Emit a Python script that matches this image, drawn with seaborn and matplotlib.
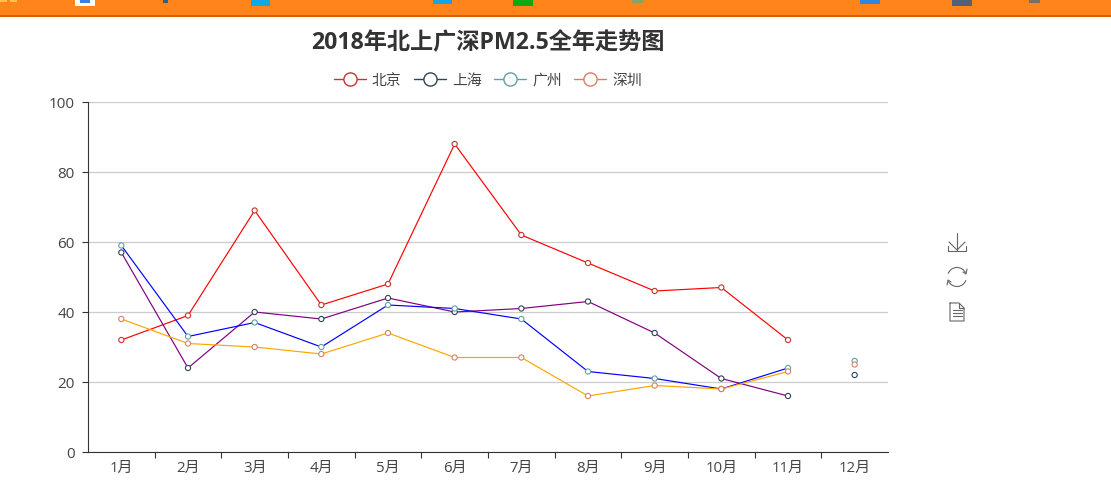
import numpy as np
import pandas as pd
import matplotlib
matplotlib.use('Agg')
import matplotlib.pyplot as plt
from matplotlib.lines import Line2D
from matplotlib.patches import Rectangle, Arc
import seaborn as sns

sns.set_theme(style='white')
plt.rcParams['font.family'] = ['Open Sans', 'Noto Sans CJK SC', 'DejaVu Sans']

months = [f'{i}月' for i in range(1, 13)]
data = {
    '北京': [32, 39, 69, 42, 48, 88, 62, 54, 46, 47, 32, np.nan],
    '上海': [57, 24, 40, 38, 44, 40, 41, 43, 34, 21, 16, 22],
    '广州': [59, 33, 37, 30, 42, 41, 38, 23, 21, 18, 24, 26],
    '深圳': [38, 31, 30, 28, 34, 27, 27, 16, 19, 18, 23, 25],
}
cities = list(data.keys())
line_colors = dict(zip(cities, ['red', 'purple', 'blue', 'orange']))
point_colors = dict(zip(cities, ['#c23531', '#2f4554', '#61a0a8', '#d48265']))

df = pd.DataFrame(data)
df['pos'] = range(12)
df = df.melt(id_vars='pos', var_name='city', value_name='pm25')

fig = plt.figure(figsize=(11.11, 4.83), dpi=100)
ax = fig.add_axes([88 / 1111, 31 / 483, 800 / 1111, 350 / 483])

# lines stop at November, December only has points
sns.lineplot(data=df[df['pos'] < 11], x='pos', y='pm25', hue='city', hue_order=cities,
             palette=line_colors, linewidth=0.85, legend=False, ax=ax, zorder=3)
sns.scatterplot(data=df, x='pos', y='pm25', hue='city', hue_order=cities,
                palette=point_colors, legend=False, ax=ax, zorder=4, s=14, marker='o',
                linewidth=0.8)
# scatterplot puts the hue on the face, so move it to the edge
for coll in ax.collections:
    coll.set_edgecolor(coll.get_facecolor())
    coll.set_facecolor('white')

ax.set_xlim(-0.5, 11.5)
ax.set_ylim(0, 100)
ax.set_xlabel('')
ax.set_ylabel('')
ax.set_yticks(range(0, 101, 20))
ax.set_xticks(np.arange(0.5, 11, 1))
ax.set_xticklabels([])
ax.set_xticks(range(12), months, minor=True)
ax.tick_params(axis='x', which='major', length=4, width=0.8, color='#333333', bottom=True)
ax.tick_params(axis='x', which='minor', length=0, pad=6.5, labelsize=10.8, labelcolor='#444444', bottom=False)
ax.tick_params(axis='y', length=4, width=0.8, color='#333333', labelsize=11, labelcolor='#444444', left=True, pad=5.5)
ax.grid(axis='y', color='#cccccc', linewidth=0.9)
ax.set_axisbelow(True)
sns.despine(ax=ax)
ax.spines['left'].set_color('#333333')
ax.spines['bottom'].set_color('#333333')
ax.spines['left'].set_linewidth(0.8)
ax.spines['bottom'].set_linewidth(0.8)

# overlay in pixels for title, legend, browser bar and toolbox
over = fig.add_axes([0, 0, 1, 1], zorder=10)
over.set_xlim(0, 1111)
over.set_ylim(483, 0)
over.axis('off')

over.text(488, 43, '2018年北上广深PM2.5全年走势图', ha='center', va='center',
          fontsize=16.7, fontweight='bold', color='#333333')

handles = [Line2D([], [], color=point_colors[c], linewidth=1, marker='o', markersize=9.5,
                  markerfacecolor='white', markeredgewidth=1) for c in cities]
over.legend(handles, cities, loc='center', bbox_to_anchor=(488, 81), bbox_transform=over.transData,
            ncols=4, frameon=False, fontsize=10.7, labelcolor='#444444', handlelength=2.15,
            handletextpad=0.42, columnspacing=0.82, borderpad=0, borderaxespad=0)

# top bar
over.add_patch(Rectangle((0, 0), 1111, 15, color='#ff851b', lw=0))
over.add_patch(Rectangle((0, 15), 1111, 1.5, color='#dd5f00', lw=0))
bar_bits = [(0, 7, 2, '#ffc04d'), (10, 7, 2, '#ffc04d'), (75, 20, 6, 'white'), (80, 10, 3, '#3b82e0'),
            (163, 5, 3, '#30608a'), (251, 19, 6, '#12a5e8'), (433, 19, 4, '#12a5e8'),
            (513, 20, 6, '#12a810'), (632, 11, 3, '#8f9d6a'), (860, 20, 4, '#2f86dd'),
            (952, 20, 6, '#54607a'), (1029, 11, 3, '#77706a')]
for x0, w, h, c in bar_bits:
    over.add_patch(Rectangle((x0, 0), w, h, color=c, lw=0))

# toolbox icons
icon = dict(color='#666666', linewidth=0.8, solid_capstyle='round')
over.plot([957, 957], [233, 250], **icon)
over.plot([949, 957, 965], [242, 250, 242], **icon)
over.plot([948, 948, 966, 966], [246, 251, 251, 246], **icon)
over.add_patch(Arc((957, 277), 19, 19, theta1=200, theta2=335, color='#666666', lw=0.8))
over.add_patch(Arc((957, 277), 19, 19, theta1=20, theta2=155, color='#666666', lw=0.8))
over.plot([963, 966, 967], [272, 274, 269], **icon)
over.plot([947, 948, 951], [285, 280, 282], **icon)
over.plot([950, 959, 964, 964, 950, 950], [303, 303, 308, 321, 321, 303], **icon)
over.plot([959, 959, 964], [303, 308, 308], **icon)
for yy in [310, 313, 316]:
    over.plot([952.5, 961.5], [yy, yy], **icon)
over.set_xlim(0, 1111)
over.set_ylim(483, 0)

fig.savefig('out.png', dpi=100)
